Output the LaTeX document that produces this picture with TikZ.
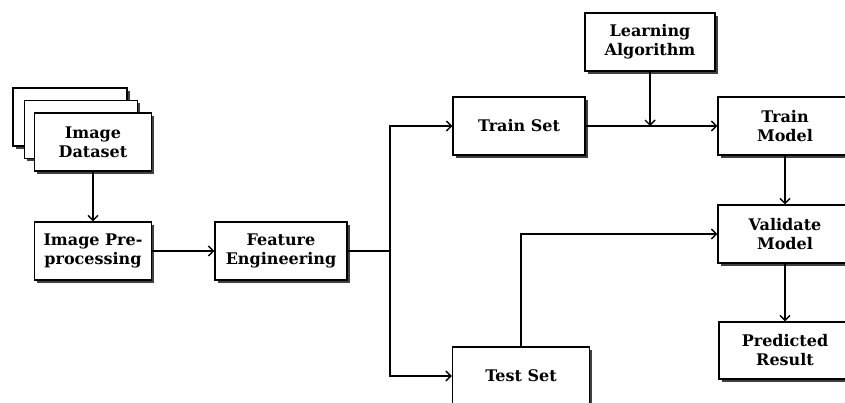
\documentclass[tikz,border=0pt]{standalone}
\usepackage{fontspec}
\setmainfont{DejaVu Serif}
\usetikzlibrary{arrows.meta,shadows}
\begin{document}
\begin{tikzpicture}[x=1pt,y=-1pt,
  box/.style={draw=black, line width=1.4pt, fill=white, align=center,
    font=\fontsize{16}{19}\selectfont\bfseries, inner sep=0pt,
    drop shadow={shadow xshift=2.6pt, shadow yshift=-2.6pt, fill=black!75, opacity=1}},
  conn/.style={line width=1.4pt},
  arr/.style={conn, -{Straight Barb[length=5pt,width=10pt,line width=1.4pt]}}]
\clip (0,0) rectangle (845,403);
\fill[white] (0,0) rectangle (845,403);
% image stack
\node[box, minimum width=114pt, minimum height=58pt] (back) at (70,117) {};
\node[box, minimum width=113pt, minimum height=58pt] (mid) at (81,129.5) {};
\node[box, minimum width=117pt, minimum height=58pt] (ds) at (93,142) {Image\\Dataset};
\node[box, minimum width=117pt, minimum height=58pt] (pre) at (93,251) {Image Pre-\\processing};
\node[box, minimum width=132pt, minimum height=58pt] (fe) at (281,251) {Feature\\Engineering};
\node[box, minimum width=132pt, minimum height=58pt] (train) at (519,126) {Train Set};
\node[box, minimum width=130pt, minimum height=58pt] (la) at (650,42) {Learning\\Algorithm};
\node[box, minimum width=134pt, minimum height=58pt] (tm) at (785,126) {Train\\Model};
\node[box, minimum width=134pt, minimum height=58pt] (vm) at (785,234) {Validate\\Model};
\node[box, minimum width=132pt, minimum height=57pt] (pr) at (785,350.5) {Predicted\\Result};
\node[box, minimum width=137pt, minimum height=58pt] (test) at (521,376) {Test Set};
% connectors
\coordinate (split) at (390,251);
\coordinate (join) at (la.south |- train.east);
\draw[arr] (ds) -- (pre);
\draw[arr] (pre) -- (fe);
\draw[conn] (fe.east) -- (split);
\draw[arr] (split) |- (train.west);
\draw[arr] (split) |- (test.west);
\draw[arr] (train.east) -- (tm.west);
\draw[arr] (la.south) -- (join);
\draw[arr] (tm) -- (vm);
\draw[arr] (vm) -- (pr);
\draw[arr] (test.north) |- (vm.west);
\end{tikzpicture}
\end{document}
